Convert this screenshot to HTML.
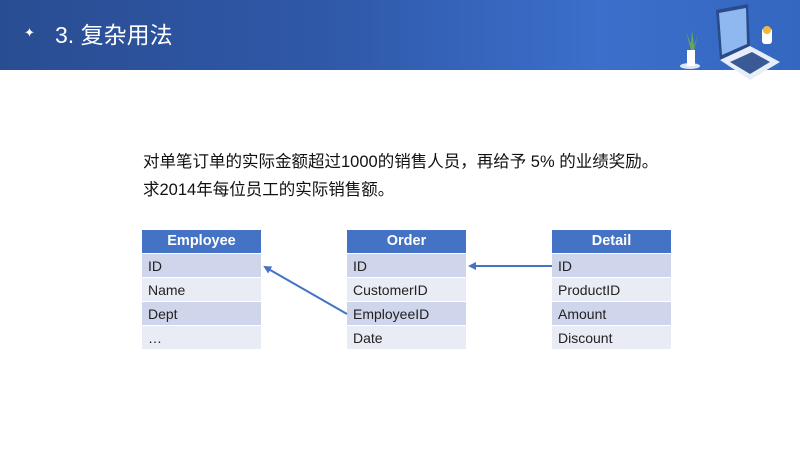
<!DOCTYPE html>
<html><head><meta charset="utf-8"><style>
*{margin:0;padding:0;box-sizing:border-box}
body{width:800px;height:450px;background:#fff;position:relative;overflow:hidden;font-family:"Liberation Sans","Noto Sans CJK SC",sans-serif}
.bar{position:absolute;left:0;top:0;width:800px;height:70px;background:linear-gradient(90deg,#2a4d92 0%,#2f58a8 40%,#3b6fcb 75%,#3467c0 100%)}
.title{position:absolute;left:55px;top:16px;color:#fff;font-size:23px}
.star{position:absolute;left:24px;top:25px;color:#fff;font-size:13px}
.txt{position:absolute;left:143px;font-size:16.5px;color:#111}
.tbl{position:absolute;top:230px;width:119px}
.tbl div{height:24px;line-height:24px;font-size:14px;padding-left:6px;color:#222;border-bottom:1px solid #fff}
.tbl .h{background:#4472c4;color:#fff;font-weight:bold;text-align:center;padding:0;height:24px;line-height:23px;font-size:14.5px}
.o{background:#cfd5ea}.e{background:#e9ebf5}
</style></head><body>
<div class="bar"></div>
<div class="star">✦</div>
<div class="title">3. 复杂用法</div>
<svg style="position:absolute;left:670px;top:0" width="130" height="80">
<ellipse cx="20" cy="66" rx="10" ry="3" fill="#dfe6f5"/>
<rect x="17" y="50" width="8" height="16" fill="#fff"/>
<path d="M21 50 L16 32 L21 44 L22 30 L24 46 L28 34 L24 50Z" fill="#6aa84f"/>
<path d="M46 10 L78 4 L80 46 L50 60Z" fill="#2a4a8a"/>
<path d="M49 13 L76 8 L77 44 L52 55Z" fill="#8fb7f0"/>
<path d="M50 60 L80 46 L110 62 L80 80Z" fill="#e8eef8"/>
<path d="M60 62 L82 52 L100 62 L80 74Z" fill="#3a5a96"/>
<rect x="92" y="28" width="10" height="16" rx="3" fill="#fff"/>
<circle cx="97" cy="30" r="4" fill="#f0b93a"/>
</svg>
<div class="txt" style="top:148px">对单笔订单的实际金额超过1000的销售人员，再给予 5% 的业绩奖励。</div>
<div class="txt" style="top:176px">求2014年每位员工的实际销售额。</div>
<div class="tbl" style="left:142px"><div class="h">Employee</div><div class="o">ID</div><div class="e">Name</div><div class="o">Dept</div><div class="e">…</div></div>
<div class="tbl" style="left:347px"><div class="h">Order</div><div class="o">ID</div><div class="e">CustomerID</div><div class="o">EmployeeID</div><div class="e">Date</div></div>
<div class="tbl" style="left:552px"><div class="h">Detail</div><div class="o">ID</div><div class="e">ProductID</div><div class="o">Amount</div><div class="e">Discount</div></div>
<svg style="position:absolute;left:0;top:0" width="800" height="450">
<defs><marker id="a" markerWidth="8" markerHeight="8" refX="6" refY="4" orient="auto" markerUnits="userSpaceOnUse"><path d="M0 0 L8 4 L0 8Z" fill="#4472c4"/></marker></defs>
<line x1="347" y1="314" x2="265" y2="267" stroke="#4472c4" stroke-width="2" marker-end="url(#a)"/>
<line x1="552" y1="266" x2="470" y2="266" stroke="#4472c4" stroke-width="2" marker-end="url(#a)"/>
</svg>
</body></html>
